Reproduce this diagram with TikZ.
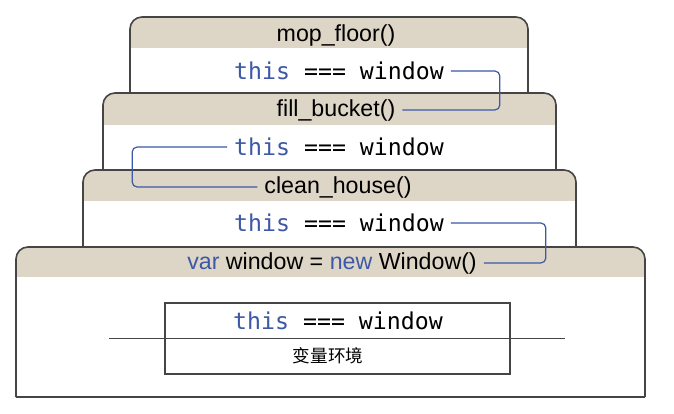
\documentclass[tikz,border=0pt]{standalone}
\usepackage{fontspec}
\setmainfont{Liberation Sans}
\setmonofont{DejaVu Sans Mono}
\newfontfamily\cjk{Noto Sans CJK SC}
\usetikzlibrary{positioning}
\definecolor{headbg}{HTML}{DDD5C6}
\definecolor{kwblue}{HTML}{3D58A6}
\definecolor{framegray}{HTML}{454545}
\tikzset{
	frame/.style={draw=framegray, line width=0.8pt},
	head/.style={fill=headbg},
	title/.style={font=\fontsize{11.6}{14}\selectfont},
	code/.style={font=\fontsize{11.6}{14}\ttfamily},
	link/.style={draw=kwblue, line width=0.6pt, rounded corners=2.5pt}
}
\newcommand{\kw}[1]{\textcolor{kwblue}{#1}}

\begin{document}
\begin{tikzpicture}[x=0.5pt, y=-0.5pt]
		\useasboundingbox (0,0) rectangle (674,413);
		
		% mop_floor()
		\fill[head, rounded corners=6pt] (130,17) rectangle (528,60);
		\fill[white] (130,48) rectangle (528,93);
		\draw[frame, rounded corners=6pt] (130,93) -- (130,17) -- (528,17) -- (528,93);
		\node[title] (mop) at (336,35) {mop\_floor()};
		\node[code] (this1) at (339,71) {\kw{this} === window};
		
		% fill_bucket()
		\fill[head, rounded corners=6pt] (103,93) rectangle (556,137);
		\fill[white] (103,125) rectangle (556,170);
		\draw[frame, rounded corners=6pt] (103,170) -- (103,93) -- (556,93) -- (556,170);
		\node[title] (fill) at (336,110) {fill\_bucket()};
		\node[code] (this2) at (339,147) {\kw{this} === window};
		
		% clean_house()
		\fill[head, rounded corners=6pt] (83,170) rectangle (576,213);
		\fill[white] (83,201) rectangle (576,247);
		\draw[frame, rounded corners=6pt] (83,247) -- (83,170) -- (576,170) -- (576,247);
		\node[title] (clean) at (338,187) {clean\_house()};
		\node[code] (this3) at (339,223) {\kw{this} === window};
		
		% global
		\fill[head, rounded corners=6pt] (16,247) rectangle (645,289);
		\fill[white] (16,277) rectangle (645,397);
		\draw[frame, rounded corners=6pt] (16,397) -- (16,247) -- (645,247) -- (645,397);
		\draw[frame] (16,397) -- (645,397);
		\node[title] (var) at (332,263) {\kw{var} window = \kw{new} Window()};
		
		\node[frame, minimum width=172.5pt, minimum height=35.5pt] (env) at (337.5,338.5) {};
		\node[code] (this4) at (338,321) {\kw{this} === window};
		\node[font=\cjk\fontsize{8.8}{10}\selectfont] (varenv) at (328,356) {变量环境};
		\draw[frame] ([xshift=-27.5pt]env.west) -- ([xshift=27pt]env.east);
		
		\draw[link] (this1.east) -- ++(49,0) |- (fill.east);
		\draw[link] (this2.west) -- ++(-95,0) |- (clean.west);
		\draw[link] (this3.east) -- ++(95,0) |- (var.east);
	\end{tikzpicture}
\end{document}
